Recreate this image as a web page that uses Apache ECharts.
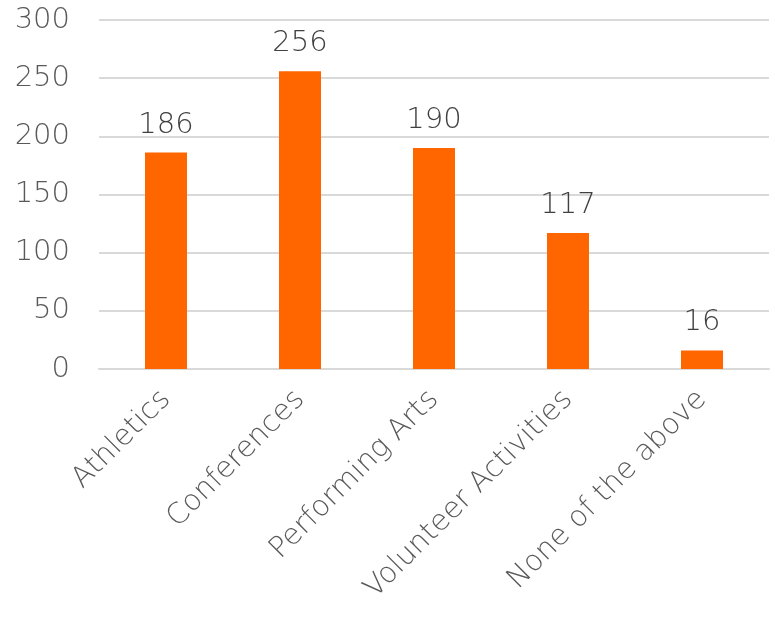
<!DOCTYPE html>
<html>
<head>
<meta charset="utf-8">
<script src="https://cdn.jsdelivr.net/npm/echarts@6/dist/echarts.min.js"></script>
<style>html,body{margin:0;padding:0;background:#fff}#c{width:775px;height:620px}</style>
</head>
<body>
<div id="c"></div>
<script>
const categories = ["Athletics", "Conferences", "Performing Arts", "Volunteer Activities", "None of the above"];
const values = [186, 256, 190, 117, 16];
const yTicks = [0, 50, 100, 150, 200, 250, 300];

const FONT = "DejaVu Sans";
const chart = echarts.init(document.getElementById('c'), null, {renderer: 'canvas'});
chart.setOption({
  animation: false,
  grid: {left: 99, right: 6, top: 20, bottom: 251, containLabel: false},
  xAxis: {
    type: 'category',
    data: categories,
    axisLine: {show: true, lineStyle: {color: '#d9d9d9', width: 2}},
    axisTick: {show: false},
    axisLabel: {rotate: 45, interval: 0, margin: 26, color: '#595959', fontFamily: FONT, fontWeight: 200, fontSize: 29}
  },
  yAxis: {
    type: 'value',
    min: yTicks[0], max: yTicks[yTicks.length - 1], interval: 50,
    axisLine: {show: false}, axisTick: {show: false},
    splitLine: {lineStyle: {color: '#d9d9d9', width: 2}},
    axisLabel: {color: '#595959', fontFamily: FONT, fontWeight: 200, fontSize: 29, margin: 29}
  },
  series: [{
    type: 'bar',
    data: values,
    barWidth: 42,
    itemStyle: {color: '#ff6600'},
    label: {show: true, position: 'top', distance: 13, color: '#404040', fontFamily: FONT, fontWeight: 200, fontSize: 29}
  }]
});
</script>
</body>
</html>
